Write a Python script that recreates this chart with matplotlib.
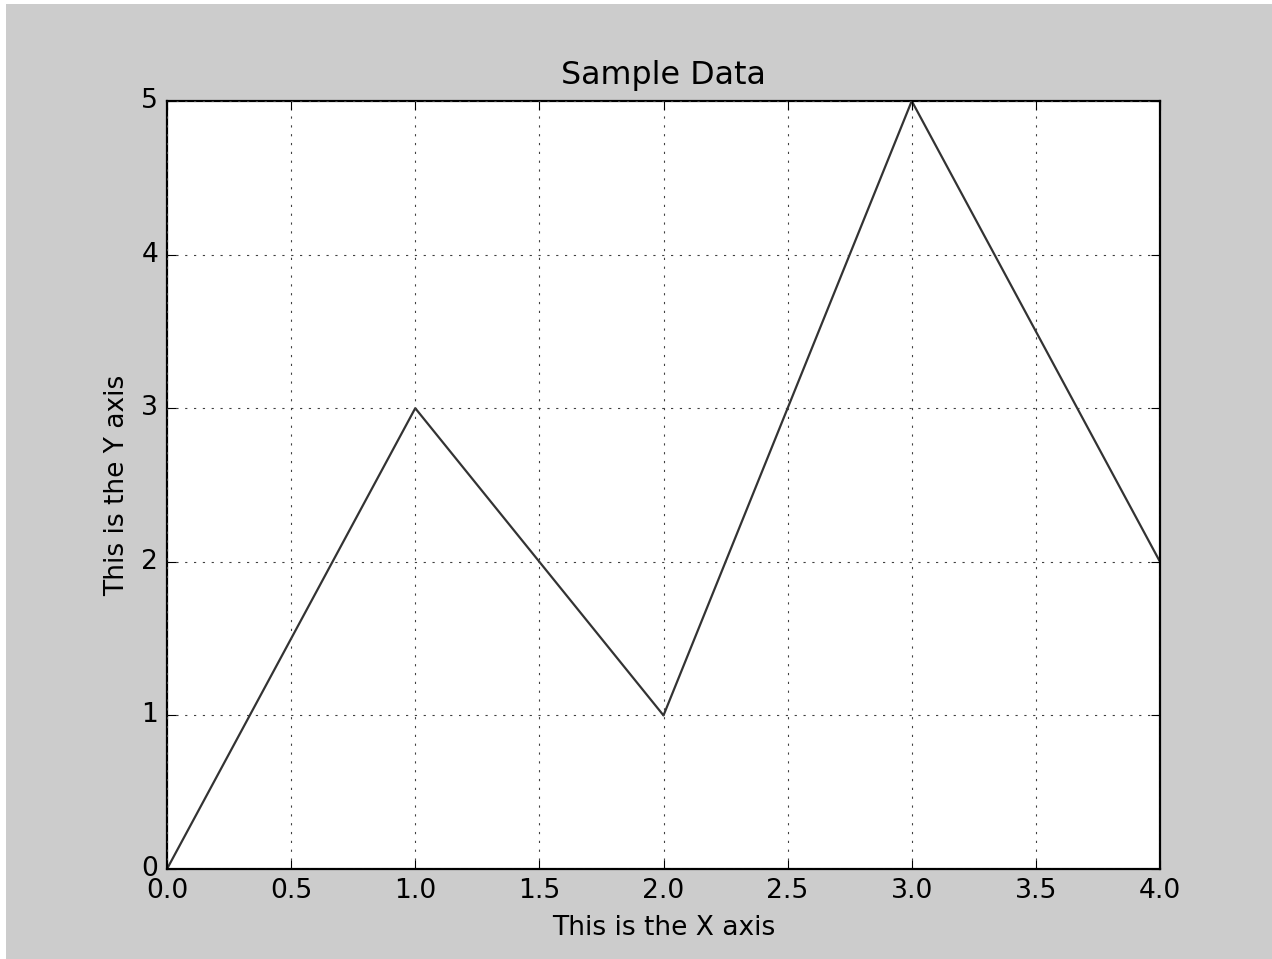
import matplotlib
matplotlib.use("Agg")
import matplotlib.pyplot as plt
from matplotlib.patches import Rectangle

# data
x_vals = [0, 1, 2, 3, 4]
y_vals = [0, 3, 1, 5, 2]

plt.style.use("classic")

fig = plt.figure(figsize=(8, 959 / 159), dpi=159, facecolor="white")
# grey window background with thin white strip on top/left (as in the screenshot)
fig.patches.append(Rectangle((6 / 1272, 0), 1 - 6 / 1272, 1 - 4 / 959,
                             transform=fig.transFigure, facecolor="#cccccc",
                             edgecolor="none", zorder=-10))

ax = fig.add_axes([167 / 1272, 90 / 959, 993 / 1272, 768 / 959])
ax.plot(x_vals, y_vals, color="#333333", linewidth=1.0)
ax.set_xlim(0, 4)
ax.set_ylim(0, 5)
ax.set_title("Sample Data", pad=7.5)
ax.set_xlabel("This is the X axis")
ax.set_ylabel("This is the Y axis")
ax.grid(True, color="0.25")

fig.savefig("out.png", dpi=159, facecolor=fig.get_facecolor())
